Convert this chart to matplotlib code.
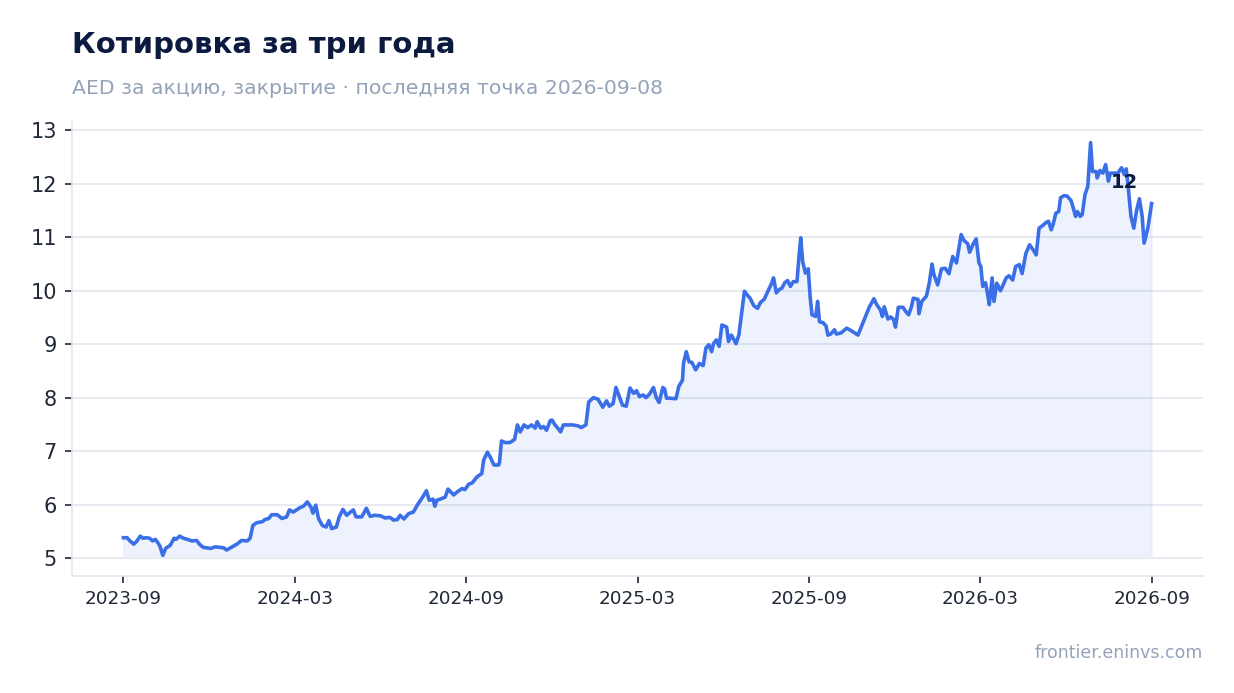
import numpy as np
import pandas as pd
import matplotlib
matplotlib.use("Agg")
import matplotlib.pyplot as plt
import matplotlib.dates as mdates

# ---- data ----
start_date = "2023-09-08"
end_date = "2026-09-08"
days = [0, 4, 7, 11, 14, 18, 21, 24, 28, 31, 34, 37, 39, 42, 45, 50, 54, 56, 60, 64,
        68, 73, 78, 81, 85, 93, 98, 103, 107, 110, 116, 121, 126, 132, 135, 138, 142, 148, 151, 155,
        158, 164, 169, 174, 177, 181, 188, 192, 196, 200, 202, 205, 208, 212, 216, 219, 222, 227, 230, 234,
        238, 242, 245, 248, 254, 259, 263, 268, 274, 279, 284, 288, 292, 295, 299, 304, 309, 314, 319, 323,
        326, 330, 332, 334, 339, 343, 346, 352, 356, 361, 364, 368, 372, 377, 382, 384, 388, 391, 395, 400,
        401, 403, 407, 412, 417, 420, 423, 427, 431, 435, 439, 441, 445, 448, 451, 455, 457, 460, 463, 466,
        469, 474, 479, 485, 488, 493, 496, 501, 506, 511, 515, 518, 522, 525, 528, 532, 536, 540, 544, 547,
        550, 554, 557, 561, 565, 568, 571, 575, 577, 579, 582, 589, 592, 596, 597, 600, 603, 606, 610, 614,
        618, 621, 624, 627, 629, 632, 635, 638, 643, 645, 648, 650, 653, 656, 659, 662, 665, 668, 672, 676,
        679, 683, 687, 691, 693, 696, 699, 702, 705, 708, 711, 714, 718, 720, 722, 724, 727, 730, 732, 734,
        738, 740, 742, 746, 749, 751, 754, 758, 760, 765, 771, 777, 783, 786, 791, 795, 800, 803, 807, 809,
        811, 815, 818, 821, 823, 826, 831, 834, 837, 840, 842, 847, 848, 851, 856, 859, 862, 864, 868, 872,
        876, 880, 884, 888, 893, 896, 900, 902, 906, 909, 912, 914, 916, 919, 921, 923, 926, 928, 931, 935,
        941, 944, 948, 951, 955, 958, 962, 966, 971, 973, 976, 980, 983, 986, 989, 991, 994, 997, 999, 1003,
        1006, 1010, 1012, 1015, 1017, 1020, 1022, 1025, 1028, 1031, 1033, 1037, 1038, 1041, 1044, 1047, 1050, 1052, 1056, 1060,
        1064, 1067, 1069, 1071, 1074, 1077, 1080, 1083, 1086, 1088, 1092, 1096]
price = [5.38, 5.38, 5.32, 5.26, 5.31, 5.41, 5.37, 5.38, 5.37, 5.32, 5.35, 5.28, 5.22, 5.05, 5.18, 5.24, 5.37, 5.35, 5.41, 5.37,
         5.35, 5.32, 5.33, 5.26, 5.20, 5.18, 5.21, 5.20, 5.19, 5.15, 5.21, 5.26, 5.33, 5.32, 5.37, 5.61, 5.66, 5.68, 5.72, 5.74,
         5.81, 5.81, 5.74, 5.77, 5.90, 5.86, 5.94, 5.97, 6.05, 5.95, 5.84, 5.99, 5.74, 5.61, 5.58, 5.70, 5.55, 5.58, 5.77, 5.91,
         5.80, 5.86, 5.90, 5.77, 5.77, 5.93, 5.78, 5.80, 5.79, 5.75, 5.76, 5.71, 5.72, 5.80, 5.73, 5.83, 5.86, 6.01, 6.14, 6.26,
         6.08, 6.10, 5.97, 6.08, 6.11, 6.14, 6.29, 6.18, 6.24, 6.30, 6.28, 6.38, 6.41, 6.52, 6.58, 6.83, 6.98, 6.89, 6.74, 6.74,
         6.80, 7.19, 7.16, 7.16, 7.22, 7.49, 7.36, 7.49, 7.44, 7.49, 7.43, 7.55, 7.43, 7.46, 7.39, 7.57, 7.58, 7.49, 7.43, 7.36,
         7.49, 7.49, 7.49, 7.47, 7.44, 7.49, 7.92, 8.00, 7.97, 7.82, 7.94, 7.84, 7.89, 8.19, 8.05, 7.86, 7.84, 8.18, 8.08, 8.13,
         8.02, 8.05, 8.00, 8.07, 8.19, 8.00, 7.91, 8.19, 8.16, 7.99, 7.99, 7.98, 8.21, 8.33, 8.64, 8.86, 8.67, 8.66, 8.52, 8.64,
         8.60, 8.93, 8.99, 8.86, 9.01, 9.08, 8.96, 9.36, 9.32, 9.05, 9.17, 9.11, 9.01, 9.17, 9.58, 9.99, 9.92, 9.86, 9.72, 9.67,
         9.78, 9.84, 9.99, 10.14, 10.24, 9.96, 10.02, 10.05, 10.15, 10.19, 10.08, 10.17, 10.17, 10.61, 10.99, 10.55, 10.33, 10.41, 9.89, 9.55,
         9.52, 9.80, 9.42, 9.40, 9.34, 9.17, 9.19, 9.27, 9.19, 9.21, 9.30, 9.24, 9.17, 9.30, 9.52, 9.69, 9.85, 9.74, 9.64, 9.52,
         9.70, 9.47, 9.51, 9.46, 9.32, 9.69, 9.69, 9.61, 9.55, 9.70, 9.86, 9.84, 9.57, 9.80, 9.90, 10.14, 10.50, 10.30, 10.11, 10.41,
         10.42, 10.32, 10.64, 10.52, 11.05, 10.94, 10.88, 10.72, 10.88, 10.97, 10.52, 10.45, 10.08, 10.15, 9.96, 9.74, 10.24, 9.80, 10.14, 10.00,
         10.24, 10.28, 10.20, 10.45, 10.49, 10.32, 10.70, 10.86, 10.73, 10.67, 11.17, 11.22, 11.27, 11.30, 11.14, 11.24, 11.45, 11.48, 11.74, 11.78,
         11.77, 11.69, 11.58, 11.39, 11.48, 11.39, 11.42, 11.80, 11.95, 12.77, 12.23, 12.23, 12.11, 12.25, 12.20, 12.36, 12.05, 12.20, 12.20, 12.20,
         12.30, 12.17, 12.28, 11.95, 11.39, 11.17, 11.50, 11.72, 11.39, 10.89, 11.17, 11.63]
tick_labels = ["2023-09", "2024-03", "2024-09", "2025-03", "2025-09", "2026-03", "2026-09"]

title = "Котировка за три года"
subtitle = "AED за акцию, закрытие · последняя точка 2026-09-08"
source = "frontier.eninvs.com"

# ---- style ----
LINE = "#3b6fe8"
DARK = "#0b1a3e"
GRAY = "#94a3b8"
GRID = "#e3e7ef"
TICK = "#1f2937"

t0 = pd.Timestamp(start_date)
t1 = pd.Timestamp(end_date)
dates = [t0 + pd.Timedelta(days=d) for d in days]
xnum = mdates.date2num(dates)
base = min(price)

fig = plt.figure(figsize=(12.34, 6.93), dpi=100)
ax = fig.add_axes([72 / 1234, 1 - 576 / 693, (1203 - 72) / 1234, (576 - 122) / 693])

ax.fill_between(xnum, price, base, color=LINE, alpha=0.085, linewidth=1.0)
ax.plot(xnum, price, color=LINE, linewidth=2.6, solid_joinstyle="round", zorder=3)

ax.margins(x=0.05, y=0.05)

# ticks evenly spaced across the span, labelled by month
tick_pos = np.linspace(mdates.date2num(t0), mdates.date2num(t1), len(tick_labels))
ax.set_xticks(tick_pos)
ax.set_xticklabels(tick_labels)
ax.set_yticks([5, 6, 7, 8, 9, 10, 11, 12, 13])

ax.grid(axis="y", color=GRID, linewidth=1.2)
ax.grid(axis="x", visible=False)
ax.set_axisbelow(True)

for side in ["top", "right"]:
    ax.spines[side].set_visible(False)
for side in ["left", "bottom"]:
    ax.spines[side].set_color(GRID)
    ax.spines[side].set_linewidth(1.2)

ax.tick_params(axis="y", labelsize=15, colors=TICK, length=5, width=1.2, pad=6)
ax.tick_params(axis="x", labelsize=13.2, colors=TICK, length=5, width=1.2, pad=5)

ax.annotate(f"{price[-1]:.0f}", xy=(xnum[-1], price[-1]), xytext=(-27, 21),
            textcoords="offset pixels", ha="center", va="center",
            fontsize=14, fontweight="bold", color=DARK, zorder=5)

fig.text(72 / 1234, 1 - 53.3 / 693, title, fontsize=21, fontweight="bold",
         color=DARK, ha="left", va="baseline")
fig.text(72 / 1234, 1 - 94 / 693, subtitle, fontsize=14.65, color=GRAY,
         ha="left", va="baseline")
fig.text(1203 / 1234, 1 - 658 / 693, source, fontsize=12.5, color=GRAY,
         ha="right", va="baseline")

fig.savefig("out.png", dpi=100)
